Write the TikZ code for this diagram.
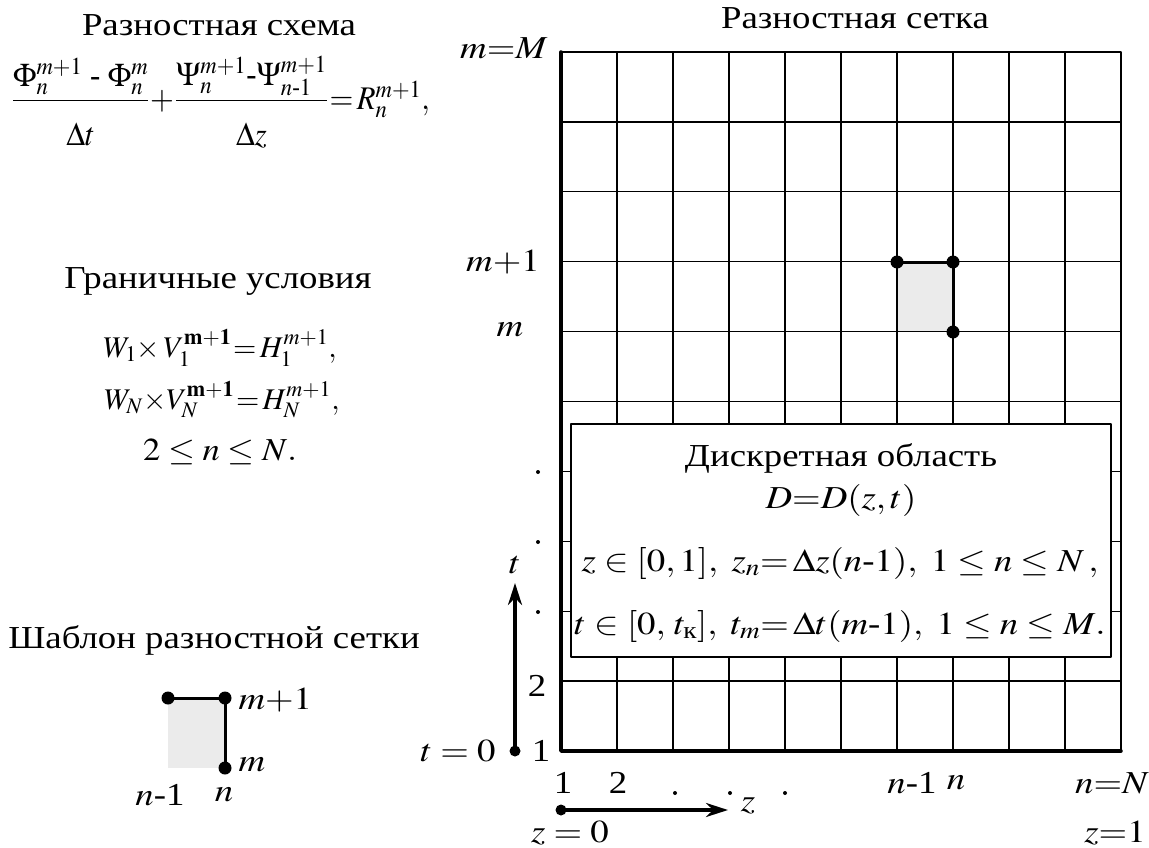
\documentclass[tikz,border=0pt]{standalone}
\usepackage{amsmath}
\usepackage{mathptmx}
\usepackage{fontspec}
\setmainfont{Liberation Serif}
\usetikzlibrary{arrows.meta}

\newbox\lblbox
\tikzset{
  stretch/.store in=\lblx, stretch=1.15,
  wide/.style={execute at begin node={\setbox\lblbox=\hbox\bgroup},
    execute at end node={\egroup\scalebox{\lblx}[1]{\box\lblbox}}},
  every node/.style={wide},
  gridline/.style={line width=1.3pt},
  stencil/.style={line width=3pt},
  axisline/.style={line width=3.5pt},
  cellfill/.style={fill=black!8},
  knot/.style={fill=black}
}

\begin{document}
\begin{tikzpicture}[x=1pt, y=-1pt, font=\fontsize{32}{38}\selectfont, line join=round, line cap=round, >={Stealth[length=22pt,width=14pt]}]
\useasboundingbox (0,0) rectangle (1149,848);

% left column
\node (scheme) at (219,25) {Разностная схема};
\node[stretch=0.93, inner sep=0pt, font=\fontsize{33}{40}\selectfont] (eq) at (221,102) {$\dfrac{\Phi_n^{m+1}\text{ - }\Phi_n^{m}\rule[-10pt]{0pt}{10pt}}{\Delta t\rule{0pt}{40pt}}\mkern-2mu+\mkern-2mu\dfrac{\Psi_n^{m+1}\text{-}\Psi_{n\text{-}1}^{m+1}\rule[-10pt]{0pt}{10pt}}{\Delta z\rule{0pt}{40pt}}\mkern-3mu=\mkern-2mu R_n^{m+1},$};
\node (bc) at (218,281) {Граничные условия};
\node[stretch=1, font=\fontsize{30}{36}\selectfont] (bc1) at (220,348) {$W_1{\times}\,V_1^{\mathbf{m+1}}\mkern-3mu=\mkern-2mu H_1^{m+1},$};
\node[stretch=1, font=\fontsize{30}{36}\selectfont] (bc2) at (222,400) {$W_N{\times}V_N^{\mathbf{m+1}}\mkern-3mu=\mkern-2mu H_N^{m+1},$};
\node[stretch=1.08] (bc3) at (220,452) {$2\le n\le N.$};
\node (tpl) at (214,640) {Шаблон разностной сетки};

\coordinate (p1) at (168,698);
\coordinate (p2) at (225,698);
\coordinate (p3) at (225,768);
\fill[cellfill] (168,698) rectangle (225,768);
\draw[stencil] (p1) -- (p2) -- (p3);
\foreach \p in {p1,p2,p3} \fill[knot] (\p) circle (6.5pt);
\node[right] (lp2) at (235,700) {$m{+}1$};
\node[right] (lp3) at (235,765) {$m$};
\node (ln1) at (160,795) {$n$-1};
\node (ln) at (224,795) {$n$};

% grid
\node (gtitle) at (855,18) {Разностная сетка};
\coordinate (g1) at (561,52);
\coordinate (g2) at (1121,52);
\coordinate (g3) at (1121,751);
\coordinate (g4) at (561,751);
\coordinate (c1) at (897,262);
\coordinate (c2) at (953,262);
\coordinate (c3) at (953,332);
\fill[cellfill] (c1) rectangle (953,332);
\foreach \i in {1,...,9}
  \draw[gridline] (561+56*\i,52) -- (561+56*\i,751);
\foreach \j in {1,...,9}
  \draw[gridline] (561,52+69.9*\j) -- (1121,52+69.9*\j);
\draw[line width=2pt] (g1) -- (g2) -- (g3);
\draw[line width=3.5pt] (g1) -- (g4) -- (g3);
\draw[stencil] (c1) -- (c2) -- (c3);
\foreach \p in {c1,c2,c3} \fill[knot] (\p) circle (6.5pt);

\node[left] (mM) at (551,48) {$m{=}M$};
\node (mp1) at (503,262) {$m{+}1$};
\node (mm) at (510,330) {$m$};
\foreach \y in {472,542,612} \fill (538,\y) circle (2pt);
\node (r2) at (537,686) {2};
\node (r1) at (541,751) {1};

% discrete domain
\node[draw, line width=1.5pt, fill=white, minimum width=540pt, minimum height=233pt, inner sep=0pt] (area) at (841,540.5) {};
\node (d1) at (841,458) {Дискретная область};
\node (d2) at (841,500) {$D{=}D(z,t)$};
\node (d3) at (840,563) {$z\in[0,1],\ z_n{=}\,\Delta z(n\text{-}1),\ 1\le n\le N\,,$};
\node (d4) at (840,626) {$t\in[0,\,t_{\text{к}}],\ t_m{=}\,\Delta t(m\text{-}1),\ 1\le n\le M.$};

% axes
\coordinate (t0) at (515,751);
\coordinate (t1) at (515,583);
\draw[axisline,->] (t0) -- (t1);
\fill[knot] (t0) circle (5.5pt);
\node (tl) at (515,565) {$t$};
\node (t0l) at (458,751) {$t=0$};

\coordinate (z0) at (561,810);
\coordinate (z1) at (728,810);
\draw[axisline,->] (z0) -- (z1);
\fill[knot] (z0) circle (5.5pt);
\node (zl) at (748,806) {$z$};
\node[anchor=base] (z0l) at (570,842) {$z=0$};
\node[anchor=base] (z1l) at (1115,842) {$z{=}1$};

\node (n1) at (563,783) {1};
\node (n2) at (618,783) {2};
\foreach \x in {675,730,785} \fill (\x,793) circle (2pt);
\node (nm1) at (912,783) {$n$-1};
\node (nn) at (956,783) {$n$};
\node (nN) at (1112,783) {$n{=}N$};
\end{tikzpicture}
\end{document}
